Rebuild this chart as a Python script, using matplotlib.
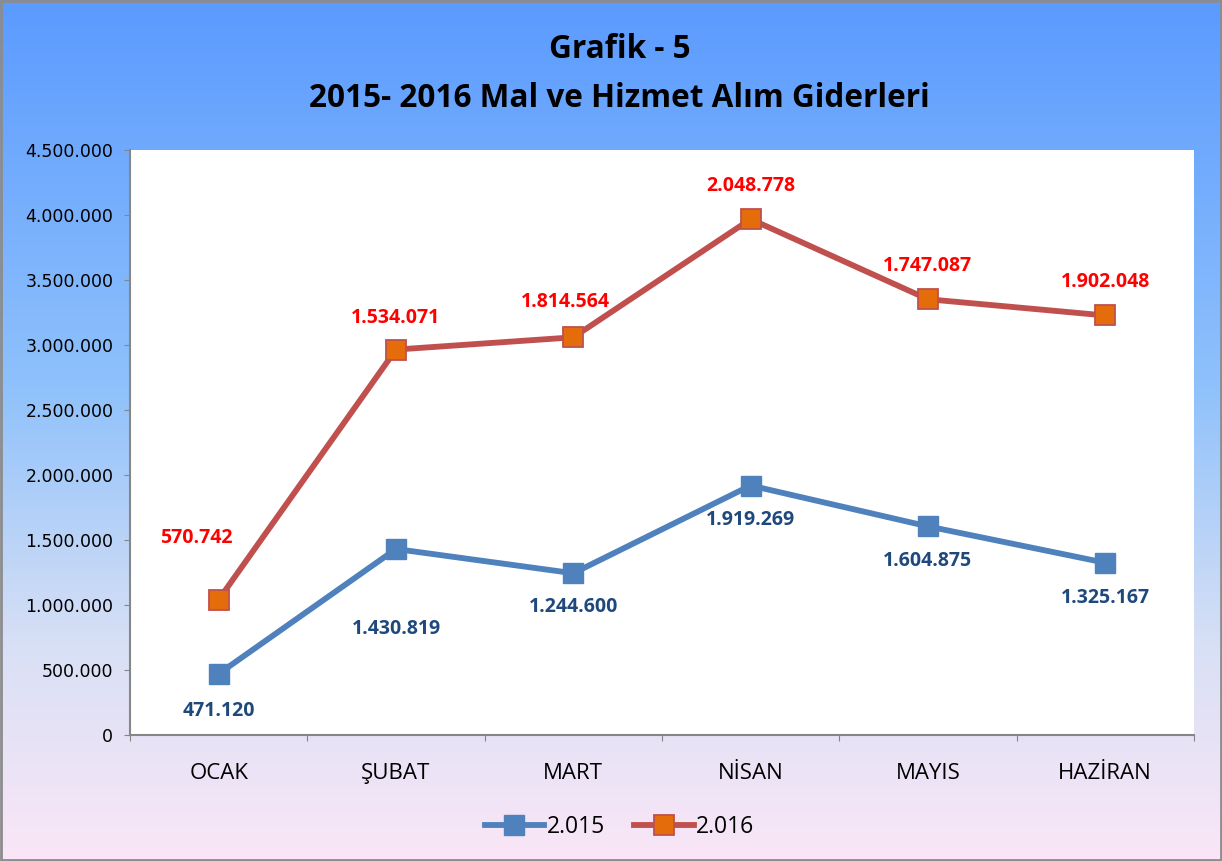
import matplotlib
matplotlib.use('Agg')
import matplotlib.pyplot as plt
import numpy as np
from matplotlib.colors import LinearSegmentedColormap
from matplotlib.ticker import FuncFormatter
from matplotlib.patches import Rectangle

# data
aylar = ['OCAK', 'ŞUBAT', 'MART', 'NİSAN', 'MAYIS', 'HAZİRAN']
y2015 = [471120, 1430819, 1244600, 1919269, 1604875, 1325167]
y2016 = [570742, 1534071, 1814564, 2048778, 1747087, 1902048]
yticks = [0, 500000, 1000000, 1500000, 2000000, 2500000, 3000000, 3500000, 4000000, 4500000]

# 2016 drawn stacked on top of 2015
y2016_st = [a + b for a, b in zip(y2015, y2016)]

def tr_fmt(v, pos=None):
    return '{:,.0f}'.format(v).replace(',', '.')

fig = plt.figure(figsize=(12.22, 8.61), dpi=100)

# gradient background
bg = fig.add_axes([0, 0, 1, 1], zorder=-10)
cmap = LinearSegmentedColormap.from_list('bg', [(0.0, '#5b9bff'), (0.45, '#8fc1fb'),
                                                (0.75, '#d8e0f5'), (1.0, '#fae6f7')])
grad = np.linspace(0, 1, 256).reshape(-1, 1)
bg.imshow(grad, aspect='auto', cmap=cmap, extent=[0, 1, 0, 1], origin='upper')
bg.set_xlim(0, 1)
bg.set_ylim(0, 1)
bg.axis('off')
bg.add_patch(Rectangle((0.001, 0.001), 0.998, 0.998, fill=False, edgecolor='#8c8c8c', lw=2))

fig.text(0.507, 0.943, 'Grafik - 5', ha='center', va='center', fontsize=22.7,
         fontweight='bold', family='Open Sans')
fig.text(0.507, 0.886, '2015- 2016 Mal ve Hizmet Alım Giderleri', ha='center', va='center',
         fontsize=22.7, fontweight='bold', family='Open Sans')

ax = fig.add_axes([0.1064, 0.1463, 0.8706, 0.6795])
ax.set_facecolor('white')
x = np.arange(len(aylar))

ax.plot(x, y2015, color='#4f81bd', lw=4.2, marker='s', markersize=14,
        markerfacecolor='#4f81bd', markeredgecolor='#4f81bd', label='2.015', zorder=3)
ax.plot(x, y2016_st, color='#c0504d', lw=4.2, marker='s', markersize=14,
        markerfacecolor='#e46c0a', markeredgecolor='#c0504d', markeredgewidth=1.3,
        label='2.016', zorder=3)

off15 = [(0, -37), (0, -80), (0, -34), (0, -34), (0, -35), (0, -35)]
off16 = [(-22, 62), (0, 32), (-8, 35), (0, 33), (0, 33), (0, 33)]
for i in range(len(aylar)):
    ax.annotate(tr_fmt(y2015[i]), (x[i], y2015[i]), xytext=off15[i], textcoords='offset pixels',
                ha='center', va='center', fontsize=14, fontweight='bold', color='#1f497d',
                family='Open Sans')
    ax.annotate(tr_fmt(y2016[i]), (x[i], y2016_st[i]), xytext=off16[i], textcoords='offset pixels',
                ha='center', va='center', fontsize=14, fontweight='bold', color='#ff0000',
                family='Open Sans')

ax.set_xlim(-0.5, len(aylar) - 0.5)
ax.set_ylim(0, 4500000)
ax.set_yticks(yticks)
ax.yaxis.set_major_formatter(FuncFormatter(tr_fmt))
ax.set_xticks(np.arange(len(aylar) + 1) - 0.5, minor=False)
ax.set_xticklabels([])
ax.set_xticks(x, minor=True)
ax.set_xticklabels(aylar, minor=True, fontsize=16, family='Open Sans')
ax.tick_params(axis='x', which='minor', length=0, pad=20)
ax.tick_params(axis='x', which='major', length=4, direction='out', color='#868686')
ax.tick_params(axis='y', length=4, color='#868686', labelsize=12.5, pad=8)
for s in ['top', 'right']:
    ax.spines[s].set_visible(False)
for s in ['left', 'bottom']:
    ax.spines[s].set_color('#868686')
    ax.spines[s].set_linewidth(1.5)

leg = fig.legend(loc='center', bbox_to_anchor=(0.507, 0.04), ncol=2, frameon=False,
                 prop={'family': 'Open Sans', 'size': 16.5}, handlelength=2.6,
                 handletextpad=0.1, columnspacing=1.3)

fig.savefig('out.png', dpi=100)
